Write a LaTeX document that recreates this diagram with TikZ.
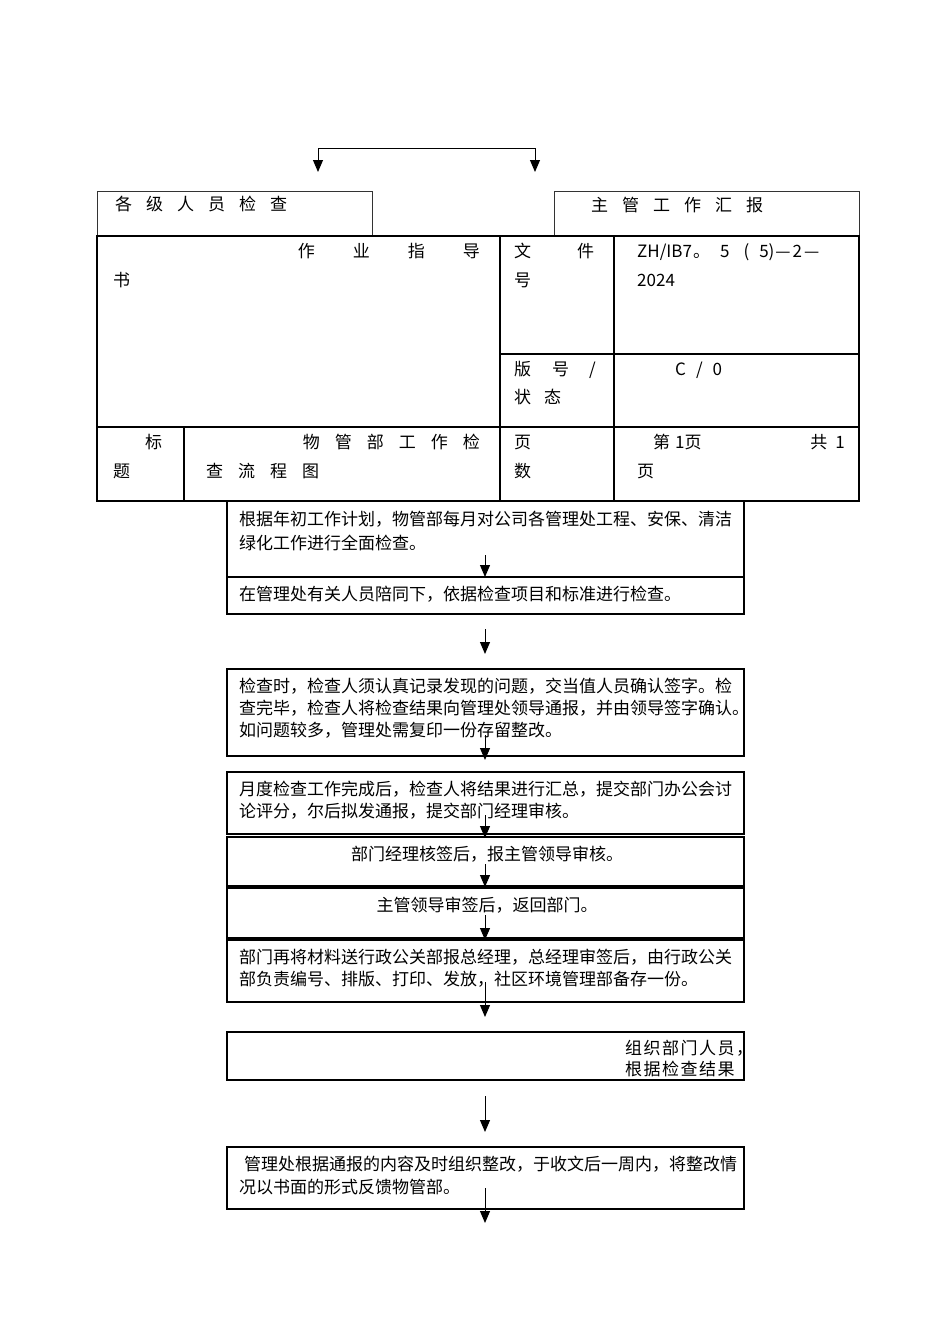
\documentclass[tikz,border=0pt]{standalone}
\usepackage{fontspec}
\setmainfont{Noto Sans CJK SC}
\usetikzlibrary{arrows.meta}
\begin{document}
\begin{tikzpicture}[x=1pt,y=-1pt,
  txt/.style={anchor=base west, inner sep=0pt, font=\fontsize{17}{20}\selectfont},
  txe/.style={anchor=base east, inner sep=0pt, font=\fontsize{17}{20}\selectfont},
  txc/.style={anchor=base, inner sep=0pt, font=\fontsize{17}{20}\selectfont},
  fbox/.style={draw, line width=1.2pt},
  tbl/.style={draw, line width=1.6pt},
  thin/.style={draw, line width=0.9pt, black!80},
  tip/.tip={Triangle[length=12pt,width=10pt]},
  arr/.style={-tip, line width=1pt}]
\useasboundingbox (0,0) rectangle (950,1344);
% top connectors
\coordinate (tl) at (318,172);
\coordinate (tr) at (535,172);
\coordinate (tl0) at (318,148);
\coordinate (tr0) at (535,148);
\draw[line width=1pt,tip-tip] (tl) -- (tl0) -- (tr0) -- (tr);
% top boxes
\draw[thin] (97,236) -- (97,191) -- (372,191) -- (372,236);
\draw[thin] (554,236) -- (554,191) -- (859,191) -- (859,236);
\node[txt] (ga) at (115,210.5) {各\hspace{14pt}级\hspace{14pt}人\hspace{14pt}员\hspace{14pt}检\hspace{14pt}查};
\node[txt] (zg) at (591,211.5) {主\hspace{14pt}管\hspace{14pt}工\hspace{14pt}作\hspace{14pt}汇\hspace{14pt}报};
% table
\draw[tbl] (97,236) rectangle (859,501);
\draw[tbl] (97,427) -- (859,427);
\draw[tbl] (500,236) -- (500,501);
\draw[tbl] (614,236) -- (614,501);
\draw[tbl] (500,354) -- (859,354);
\draw[tbl] (184,427) -- (184,501);
\node[txe] (zy) at (480,257.5) {作\hspace{38pt}业\hspace{38pt}指\hspace{38pt}导};
\node[txt] (shu) at (113,286.5) {书};
\node[txt] (wj) at (514,257.5) {文\hspace{46pt}件};
\node[txt] (hao) at (514,286.5) {号};
\node[txt] (code) at (637,257.5) {ZH/IB7\hspace{1pt}。\hspace{10pt}5\hspace{14pt}(\hspace{10pt}5)\hspace{1pt}—\hspace{2pt}2\hspace{2pt}—};
\node[txt] (yr) at (637,286.5) {2024};
\node[txt] (bh) at (514,375.5) {版\hspace{21pt}号\hspace{20pt}/};
\node[txt] (zt) at (514,403.5) {状\hspace{13pt}态};
\node[txt] (cv) at (675,375.5) {C\hspace{10pt}/\hspace{10pt}0};
\node[txt] (biao) at (145,448.5) {标};
\node[txt] (ti) at (113,477.5) {题};
\node[txe] (wg) at (480,448.5) {物\hspace{15pt}管\hspace{15pt}部\hspace{15pt}工\hspace{15pt}作\hspace{15pt}检};
\node[txt] (cl) at (206,477.5) {查\hspace{15pt}流\hspace{15pt}程\hspace{15pt}图};
\node[txt] (ye) at (514,448.5) {页};
\node[txt] (shu2) at (514,477.5) {数};
\node[txt] (di) at (653,448.5) {第\hspace{5pt}1页};
\node[txe] (gong) at (845,448.5) {共\hspace{8pt}1};
\node[txt] (ye2) at (637,477.5) {页};
% flow boxes
\draw[fbox] (227,501) rectangle (744,577);
\draw[fbox] (227,577) rectangle (744,614);
\draw[fbox] (227,669) rectangle (744,756);
\draw[fbox] (227,772) rectangle (744,834);
\draw[fbox] (227,837) rectangle (744,886);
\draw[fbox] (227,888) rectangle (744,938);
\draw[fbox] (227,940) rectangle (744,1002);
\draw[fbox] (227,1032) rectangle (744,1080);
\draw[fbox] (227,1147) rectangle (744,1209);
% flow texts
\node[txt] (a1) at (239,525.5) {根据年初工作计划，物管部每月对公司各管理处工程、安保、清洁};
\node[txt] (a2) at (239,549.5) {绿化工作进行全面检查。};
\node[txt] (b1) at (239,600.5) {在管理处有关人员陪同下，依据检查项目和标准进行检查。};
\node[txt] (c1) at (239,692.5) {检查时，检查人须认真记录发现的问题，交当值人员确认签字。检};
\node[txt] (c2) at (239,714.5) {查完毕，检查人将检查结果向管理处领导通报，并由领导签字确认。};
\node[txt] (c3) at (239,736.5) {如问题较多，管理处需复印一份存留整改。};
\node[txt] (d1) at (239,795.5) {月度检查工作完成后，检查人将结果进行汇总，提交部门办公会讨};
\node[txt] (d2) at (239,817.5) {论评分，尔后拟发通报，提交部门经理审核。};
\node[txc] (e1) at (487,860.5) {部门经理核签后，报主管领导审核。};
\node[txc] (f1) at (487,911.5) {主管领导审签后，返回部门。};
\node[txt] (g1) at (239,963.5) {部门再将材料送行政公关部报总经理，总经理审签后，由行政公关};
\node[txt] (g2) at (239,985.5) {部负责编号、排版、打印、发放，社区环境管理部备存一份。};
\node[txt] (h1) at (625,1054.5) {组\hspace{1.5pt}织\hspace{1.5pt}部\hspace{1.5pt}门\hspace{1.5pt}人\hspace{1.5pt}员\hspace{1.5pt}，};
\node[txt] (h2) at (625,1075.5) {根\hspace{1.5pt}据\hspace{1.5pt}检\hspace{1.5pt}查\hspace{1.5pt}结\hspace{1.5pt}果};
\node[txt] (i1) at (244,1170.5) {管理处根据通报的内容及时组织整改，于收文后一周内，将整改情};
\node[txt] (i2) at (239,1193.5) {况以书面的形式反馈物管部。};
% arrows
\foreach \n/\ya/\yb in {1/555/577, 2/629/654, 3/735/760, 4/815/838, 5/864/887, 6/915/940, 7/982/1017, 8/1096/1132, 9/1188/1223} {
  \coordinate (s\n) at (485,\ya);
  \coordinate (e\n) at (485,\yb);
  \draw[arr] (s\n) -- (e\n);
}
\end{tikzpicture}
\end{document}
